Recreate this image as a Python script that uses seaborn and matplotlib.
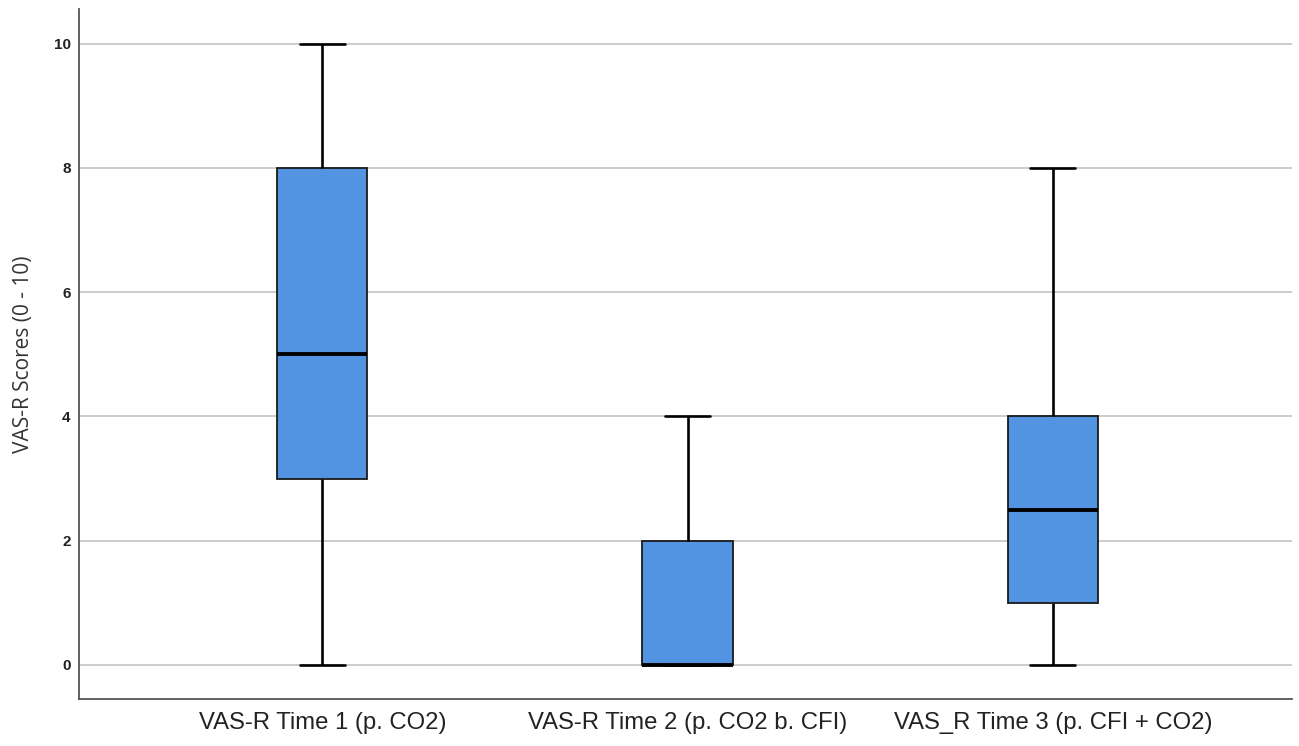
import matplotlib
matplotlib.use("Agg")
import matplotlib.pyplot as plt
import seaborn as sns
import pandas as pd

# Five-number summaries (min, Q1, median, Q3, max)
categories = ["VAS-R Time 1 (p. CO2)", "VAS-R Time 2 (p. CO2 b. CFI)", "VAS_R Time 3 (p. CFI + CO2)"]
time1 = [0, 3, 5, 8, 10]
time2 = [0, 0, 0, 2, 4]
time3 = [0, 1, 2.5, 4, 8]
yticks = [0, 2, 4, 6, 8, 10]

rows = []
for cat, vals in zip(categories, [time1, time2, time3]):
    for v in vals:
        rows.append({"group": cat, "score": v})
df = pd.DataFrame(rows)

sns.set_theme(style="white")
plt.rcParams["font.family"] = ["Liberation Sans", "DejaVu Sans"]

fig = plt.figure(figsize=(12.99, 7.46), dpi=100)
ax = fig.add_axes([79 / 1299, 47 / 746, (1292 - 79) / 1299, (737 - 47) / 746])

sns.boxplot(data=df, x="group", y="score", ax=ax, color="#5294E2", saturation=1,
            width=0.247, whis=1.5, showfliers=False,
            boxprops=dict(edgecolor="#1a1a1a", linewidth=1.3),
            medianprops=dict(color="black", linewidth=2.8),
            whiskerprops=dict(color="black", linewidth=1.9),
            capprops=dict(color="black", linewidth=1.9),
            capwidths=0.124, zorder=3)

ax.set_ylim(-0.55, 10.56)
ax.set_xlim(-0.666, 2.655)
ax.set_yticks(yticks)
ax.set_yticklabels([str(t) for t in yticks], fontsize=11, fontweight="bold", color="#222222")
ax.tick_params(axis="x", labelsize=17.2, colors="#222222", length=0, pad=9)
ax.tick_params(axis="y", length=0, pad=6)
ax.set_xlabel("")
ax.set_ylabel("VAS-R Scores (0 - 10)", fontsize=15, color="#333333", labelpad=14,
              family=["Open Sans", "DejaVu Sans"])

for yv in yticks:
    ax.axhline(yv, color="#c8c8c8", linewidth=1.3, zorder=0)

for s in ["top", "right"]:
    ax.spines[s].set_visible(False)
for s in ["left", "bottom"]:
    ax.spines[s].set_color("#555555")
    ax.spines[s].set_linewidth(1.3)

fig.savefig("out.png", dpi=100)
